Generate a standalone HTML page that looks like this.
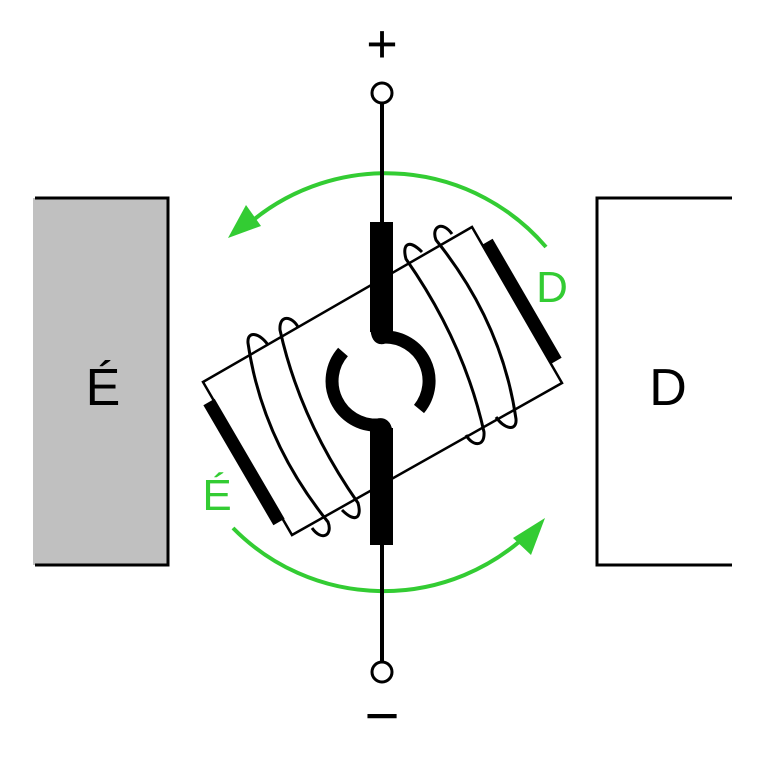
<!DOCTYPE html>
<html><head><meta charset="utf-8"><style>html,body{margin:0;padding:0;background:#fff}svg{display:block}text{font-family:"Liberation Sans",Arial,sans-serif}</style></head>
<body>
<svg width="765" height="765" viewBox="0 0 765 765" xmlns="http://www.w3.org/2000/svg">
<rect x="0" y="0" width="765" height="765" fill="#fff"/>
<rect x="33" y="198" width="135" height="367" fill="#c0c0c0"/>
<path d="M35 198 H168 V565 H35" fill="none" stroke="#000" stroke-width="3"/>
<path d="M732 198 H597 V565 H732" fill="none" stroke="#000" stroke-width="3"/>
<text x="103" y="405" font-size="52" text-anchor="middle">É</text>
<text x="668" y="405" font-size="52" text-anchor="middle">D</text>
<g stroke="#33cc33" stroke-width="4" fill="none">
<path d="M546 247 A211 211 0 0 0 252 221"/>
<path d="M233 528 A211 211 0 0 0 530 532"/>
</g>
<polygon points="228,238 246,205 261,226" fill="#33cc33"/>
<polygon points="545,518 513,538 531,555" fill="#33cc33"/>
<text x="552" y="302" font-size="44" fill="#33cc33" text-anchor="middle">D</text>
<text x="217" y="510" font-size="44" fill="#33cc33" text-anchor="middle">É</text>
<polygon points="203,382 472,227 562,383 292,535" fill="#fff" stroke="#000" stroke-width="2.5"/>
<line x1="209" y1="402" x2="279" y2="522" stroke="#000" stroke-width="13"/>
<line x1="487" y1="242" x2="556" y2="361" stroke="#000" stroke-width="13"/>
<g fill="none" stroke="#000" stroke-width="3">
<path d="M268 345 C260 333 247 330 248 343 Q262 440 328 522 C333 535 322 542 312 528"/>
<path d="M298 327 C292 316 279 314 280 330 Q300 420 358 503 C362 517 356 524 342 510"/>
<path d="M496 417 C504 429 517 432 516 419 Q502 322 436 240 C431 227 442 220 452 234"/>
<path d="M466 435 C472 446 485 448 484 432 Q464 342 406 259 C402 245 408 238 422 252"/>
</g>
<line x1="382" y1="103" x2="382" y2="225" stroke="#000" stroke-width="4"/>
<line x1="382" y1="545" x2="382" y2="662" stroke="#000" stroke-width="4"/>
<circle cx="382" cy="93" r="10" fill="#fff" stroke="#000" stroke-width="3"/>
<circle cx="382" cy="672" r="10" fill="#fff" stroke="#000" stroke-width="3"/>
<text x="382" y="62" font-size="54" text-anchor="middle">+</text>
<text x="382" y="736" font-size="60" text-anchor="middle">−</text>
<rect x="370" y="222" width="23" height="110" fill="#000"/>
<rect x="370" y="428" width="23" height="117" fill="#000"/>
<g fill="none" stroke="#000" stroke-width="13">
<path d="M377 330 Q378 340 384 337 A44 44 0 0 1 419 409"/>
<path d="M386 432 Q385 423 378 425 A44 44 0 0 1 343 352"/>
</g>
</svg>
</body></html>
